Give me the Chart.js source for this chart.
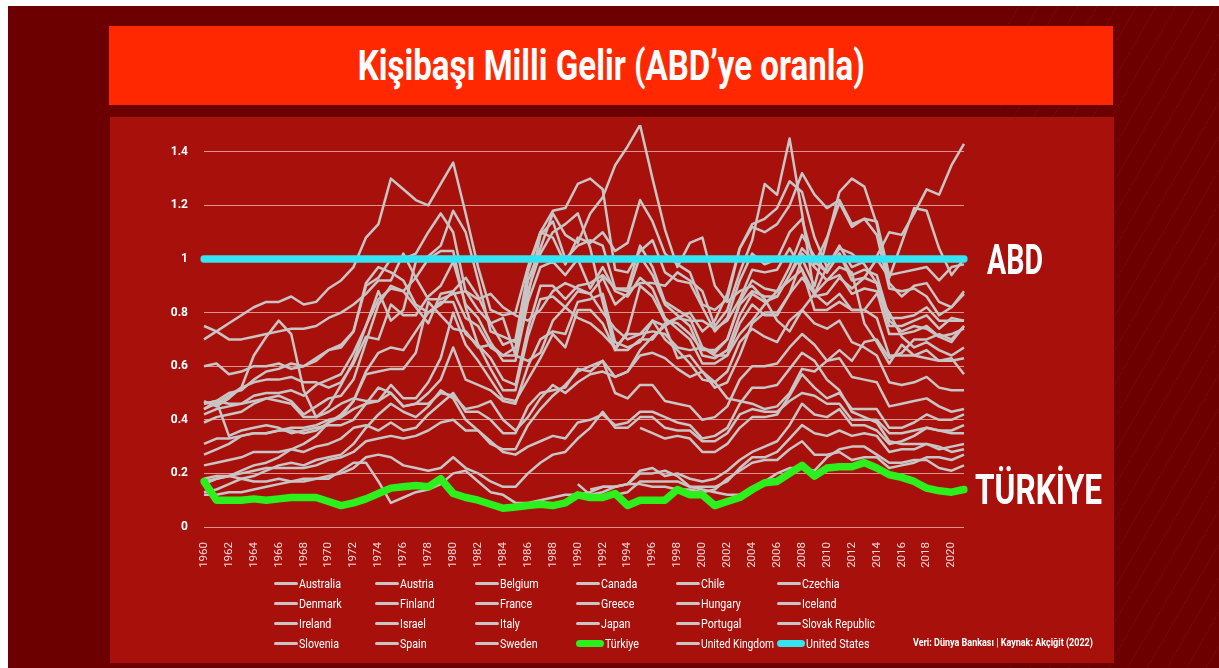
<!DOCTYPE html>
<html lang="tr">
<head>
<meta charset="utf-8">
<title>Kişibaşı Milli Gelir (ABD’ye oranla)</title>
<script src="https://cdn.jsdelivr.net/npm/chart.js@4.4.1/dist/chart.umd.min.js"></script>
<style>
    html, body { margin: 0; padding: 0; }
    body {
        width: 1219px; height: 668px; position: relative; overflow: hidden;
        background: #fff; font-family: Roboto, "Noto Sans", sans-serif;
    }
    #fondo {
        position: absolute; left: 8px; top: 6px; right: 0; bottom: 0;
        background: #6c0000;
    }
    #rayas {
        position: absolute; left: 1000px; top: 6px; right: 0; bottom: 0;
        background: repeating-linear-gradient(120deg, rgba(255,70,70,0) 0 16px, rgba(255,70,70,0.07) 16px 17px);
    }
    #titulo {
        position: absolute; left: 109px; top: 26px; width: 1004px; height: 79px;
        background: #ff2800; color: #fff; text-align: center;
    }
    #titulo span {
        display: inline-block; font-weight: 700; font-size: 42px; line-height: 79px;
        transform-origin: center center; white-space: nowrap;
    }
    #panel {
        position: absolute; left: 110px; top: 117px; width: 1004px; height: 546px;
        background: #a8110b;
    }
    #grafico { position: absolute; left: 110px; top: 117px; }
    .item {
        position: absolute; height: 16px; display: flex; align-items: center;
        color: #fff; font-size: 13px; white-space: nowrap;
    }
    .item i { display: inline-block; width: 24px; height: 3px; border-radius: 2px; margin-right: 1px; }
    .item i.grueso { width: 28px; height: 7px; border-radius: 4px; }
    .item span, #fuente span { display: inline-block; transform: scaleX(0.82); transform-origin: left center; }
    #fuente {
        position: absolute; left: 913px; top: 636px; color: #fff;
        font-size: 11px; font-weight: 700; white-space: nowrap;
    }
</style>
</head>
<body>
<div id="fondo"></div>
<div id="rayas"></div>
<div id="titulo"><span>Kişibaşı Milli Gelir (ABD’ye oranla)</span></div>
<div id="panel"></div>
<canvas id="grafico" width="1004" height="546"></canvas>
<div id="leyenda"></div>
<div id="fuente"><span>Veri: Dünya Bankası | Kaynak: Akçiğit (2022)</span></div>

<script>
// Years on the x axis
const years = [
    '1960','1961','1962','1963','1964','1965','1966','1967','1968','1969',
    '1970','1971','1972','1973','1974','1975','1976','1977','1978','1979',
    '1980','1981','1982','1983','1984','1985','1986','1987','1988','1989',
    '1990','1991','1992','1993','1994','1995','1996','1997','1998','1999',
    '2000','2001','2002','2003','2004','2005','2006','2007','2008','2009',
    '2010','2011','2012','2013','2014','2015','2016','2017','2018','2019',
    '2020','2021'
];

// Y ticks shown
const yTicks = [0, 0.2, 0.4, 0.6, 0.8, 1, 1.2, 1.4];

// Per capita income relative to the US
const australia = [
    .60,.61,.57,.58,.60,.60,.61,.59,.60,.62,
    .66,.68,.73,.91,.97,.95,.92,.83,.80,.83,
    .88,.93,.86,.76,.78,.64,.62,.65,.77,.82,
    .78,.76,.72,.67,.72,.72,.77,.75,.63,.64,
    .58,.52,.54,.64,.76,.80,.80,.87,1.00,.90,
    1.07,1.25,1.30,1.27,1.13,.91,.86,.90,.91,.84,
    .82,.87];
const austria = [
    .31,.33,.33,.34,.35,.35,.36,.36,.35,.36,
    .39,.42,.47,.58,.65,.67,.66,.73,.80,.84,
    .84,.72,.68,.63,.55,.53,.74,.90,.90,.85,
    .90,.91,.94,.89,.89,1.05,.97,.84,.81,.78,
    .67,.65,.70,.83,.88,.86,.86,.94,1.04,.99,
    .95,1.02,.94,.96,.94,.78,.78,.79,.82,.77,
    .77,.77];
const belgium = [
    .42,.44,.45,.46,.49,.50,.50,.51,.49,.53,
    .55,.57,.65,.75,.85,.89,.88,.93,1.00,1.03,
    1.03,.82,.68,.59,.51,.51,.71,.85,.86,.82,
    .88,.87,.93,.83,.87,1.01,.94,.83,.79,.75,
    .64,.63,.66,.79,.87,.84,.86,.94,1.02,.97,
    .92,.94,.87,.89,.88,.72,.72,.73,.75,.71,
    .72,.74];
const canada = [
    .75,.73,.70,.70,.71,.72,.73,.74,.74,.75,
    .78,.80,.83,.87,.92,.92,1.02,.93,.85,.85,
    .87,.88,.85,.87,.82,.79,.77,.81,.88,.91,
    .89,.87,.80,.74,.70,.72,.73,.72,.67,.66,
    .67,.64,.64,.72,.77,.83,.88,.92,.96,.87,
    .97,1.04,1.02,.98,.91,.77,.73,.75,.74,.71,
    .69,.75];
const chile = [
    .18,.19,.19,.18,.17,.17,.18,.17,.17,.18,
    .18,.21,.24,.24,.17,.09,.11,.13,.14,.16,
    .20,.21,.17,.13,.12,.09,.09,.10,.11,.12,
    .12,.13,.15,.15,.16,.20,.20,.21,.19,.15,
    .14,.13,.12,.12,.15,.17,.20,.22,.22,.21,
    .26,.29,.30,.30,.27,.24,.24,.25,.25,.22,
    .21,.23];
const czechia = [
    null,null,null,null,null,null,null,null,null,null,
    null,null,null,null,null,null,null,null,null,null,
    null,null,null,null,null,null,null,null,null,null,
    .16,.12,.13,.15,.16,.21,.22,.19,.20,.18,
    .17,.18,.21,.25,.28,.30,.32,.38,.46,.42,
    .41,.44,.38,.38,.36,.31,.32,.34,.37,.36,
    .36,.38];
const denmark = [
    .44,.47,.50,.51,.55,.58,.59,.61,.60,.63,
    .66,.67,.73,.90,.93,1.00,1.00,1.02,1.10,1.17,
    1.10,.88,.81,.76,.68,.70,.95,1.10,1.08,.98,
    1.08,1.06,1.10,1.03,1.06,1.22,1.14,1.02,.98,.95,
    .83,.81,.85,1.04,1.12,1.10,1.13,1.20,1.32,1.24,
    1.19,1.22,1.13,1.15,1.14,.94,.95,.96,.97,.92,
    .97,.98];
const finland = [
    .39,.41,.42,.43,.46,.48,.49,.47,.42,.45,
    .48,.49,.55,.69,.83,.90,.88,.82,.76,.87,
    .88,.78,.75,.67,.64,.67,.88,1.02,1.10,1.13,
    1.17,1.04,.84,.66,.73,.90,.86,.77,.76,.72,
    .66,.66,.70,.84,.92,.89,.88,.97,1.09,1.01,
    .95,1.02,.92,.93,.91,.75,.75,.77,.79,.74,
    .78,.77];
const france = [
    .44,.46,.49,.52,.54,.55,.55,.56,.54,.54,
    .52,.54,.61,.71,.70,.83,.79,.79,.86,.90,
    .99,.83,.78,.69,.62,.62,.84,.97,.99,.94,
    1.00,.89,.97,.88,.86,.93,.89,.78,.74,.70,
    .61,.61,.64,.76,.83,.79,.79,.87,.93,.87,
    .83,.87,.81,.81,.78,.64,.64,.64,.66,.62,
    .62,.63];
const greece = [
    .17,.18,.19,.20,.21,.22,.22,.22,.22,.23,
    .25,.26,.28,.32,.33,.34,.33,.34,.36,.39,
    .40,.36,.36,.32,.28,.27,.30,.32,.34,.33,
    .39,.40,.42,.38,.39,.43,.43,.41,.39,.38,
    .33,.34,.37,.46,.52,.52,.53,.59,.65,.62,
    .55,.51,.43,.41,.39,.32,.31,.31,.31,.30,
    .28,.29];
const hungary = [
    null,null,null,null,null,null,null,null,null,null,
    null,null,null,null,null,null,null,null,null,null,
    null,null,null,null,null,null,null,null,null,null,
    null,.14,.15,.15,.16,.16,.15,.15,.14,.14,
    .13,.14,.18,.21,.24,.25,.25,.29,.32,.27,
    .27,.28,.25,.26,.26,.22,.23,.24,.26,.26,
    .25,.27];
const iceland = [
    .47,.45,.48,.52,.64,.71,.77,.72,.51,.41,
    .45,.53,.62,.75,.88,.77,.81,.99,1.01,1.05,
    1.18,1.10,.92,.73,.71,.69,.86,1.09,1.14,1.00,
    1.05,1.07,1.05,.89,.88,.91,.91,.90,.95,.92,
    .88,.75,.81,.95,1.07,1.28,1.24,1.45,1.17,.86,
    .87,.93,.89,.93,1.00,.93,1.06,1.19,1.18,1.04,
    .94,1.00];
const ireland = [
    .23,.24,.25,.26,.28,.28,.28,.29,.28,.30,
    .31,.33,.37,.38,.36,.39,.36,.37,.42,.46,
    .50,.43,.43,.40,.35,.35,.45,.50,.51,.52,
    .59,.58,.62,.56,.58,.66,.71,.75,.78,.80,
    .73,.77,.87,1.04,1.13,1.15,1.19,1.29,1.25,1.08,
    .97,1.05,.97,.99,1.01,1.10,1.09,1.17,1.26,1.24,
    1.35,1.43];
const israel = [
    .46,.47,.34,.36,.37,.38,.37,.35,.36,.37,
    .38,.38,.40,.46,.52,.50,.45,.46,.46,.50,
    .49,.44,.45,.47,.40,.36,.41,.48,.53,.50,
    .54,.57,.58,.56,.58,.64,.65,.63,.59,.56,
    .58,.54,.48,.47,.46,.44,.45,.50,.59,.58,
    .62,.66,.62,.69,.70,.63,.65,.70,.70,.72,
    .70,.75];
const italy = [
    .27,.29,.31,.34,.35,.35,.36,.37,.37,.38,
    .40,.41,.44,.46,.47,.50,.45,.46,.50,.55,
    .67,.55,.53,.51,.47,.46,.60,.70,.73,.72,
    .84,.85,.87,.69,.67,.69,.77,.70,.66,.61,
    .55,.54,.58,.69,.74,.71,.69,.77,.81,.76,
    .74,.77,.69,.67,.64,.54,.53,.54,.56,.52,
    .51,.51];
const japan = [
    .16,.18,.19,.21,.23,.24,.26,.29,.31,.34,
    .39,.41,.47,.57,.58,.59,.59,.65,.84,.79,
    .74,.73,.67,.68,.64,.64,.92,1.04,1.17,1.09,
    1.06,1.17,1.23,1.35,1.42,1.50,1.30,1.11,.97,1.06,
    1.08,.90,.84,.88,.90,.85,.77,.73,.81,.87,
    .92,.97,.95,.76,.69,.61,.68,.64,.63,.62,
    .63,.57];
const portugal = [
    .12,.12,.13,.13,.14,.15,.16,.17,.18,.18,
    .19,.20,.22,.26,.27,.26,.23,.22,.21,.22,
    .26,.22,.20,.17,.15,.15,.20,.24,.27,.28,
    .33,.37,.43,.37,.37,.41,.41,.37,.36,.36,
    .32,.32,.35,.42,.44,.43,.43,.47,.50,.49,
    .46,.46,.40,.40,.40,.35,.35,.36,.37,.36,
    .35,.35];
const slovakRepublic = [
    null,null,null,null,null,null,null,null,null,null,
    null,null,null,null,null,null,null,null,null,null,
    null,null,null,null,null,null,null,null,null,null,
    null,null,null,.12,.13,.17,.17,.17,.17,.15,
    .15,.15,.17,.22,.26,.26,.28,.33,.38,.35,
    .34,.36,.34,.35,.34,.28,.29,.29,.31,.29,
    .30,.31];
const slovenia = [
    null,null,null,null,null,null,null,null,null,null,
    null,null,null,null,null,null,null,null,null,null,
    null,null,null,null,null,null,null,null,null,null,
    null,null,null,null,null,.37,.35,.33,.34,.33,
    .28,.28,.31,.37,.41,.41,.42,.49,.57,.52,
    .48,.50,.44,.44,.44,.37,.37,.39,.42,.40,
    .40,.42];
const spain = [
    .13,.14,.16,.18,.19,.21,.23,.24,.23,.25,
    .26,.27,.31,.37,.42,.46,.43,.41,.45,.51,
    .48,.40,.36,.31,.29,.29,.38,.44,.49,.53,
    .58,.60,.62,.50,.48,.53,.53,.47,.46,.45,
    .40,.41,.45,.55,.60,.60,.61,.67,.72,.68,
    .62,.63,.56,.55,.54,.45,.46,.47,.48,.45,
    .43,.44];
const sweden = [
    .70,.73,.76,.79,.82,.84,.84,.86,.83,.84,
    .89,.92,.97,1.08,1.13,1.30,1.26,1.22,1.20,1.28,
    1.36,1.17,.97,.81,.79,.80,.97,1.10,1.18,1.19,
    1.28,1.30,1.26,.96,.95,1.03,1.07,.95,.92,.91,
    .82,.73,.78,.92,1.02,.98,1.00,1.10,1.15,.98,
    1.08,1.21,1.12,1.15,1.09,.89,.88,.89,.86,.79,
    .82,.88];
const turkiye = [
    .17,.10,.10,.10,.105,.10,.105,.11,.11,.11,
    .095,.08,.09,.105,.125,.145,.15,.155,.15,.18,
    .125,.11,.10,.085,.07,.075,.08,.085,.08,.09,
    .12,.11,.11,.125,.08,.10,.10,.10,.14,.12,
    .12,.08,.095,.11,.14,.165,.17,.20,.23,.19,
    .22,.225,.225,.24,.22,.195,.185,.17,.145,.135,
    .13,.14];
const unitedKingdom = [
    .46,.47,.46,.46,.47,.48,.47,.46,.41,.41,
    .43,.46,.48,.47,.47,.53,.48,.48,.54,.63,
    .80,.68,.62,.55,.48,.47,.55,.63,.72,.67,
    .81,.81,.76,.66,.66,.70,.70,.76,.78,.77,
    .77,.74,.77,.85,.96,.95,.96,1.04,.96,.81,
    .81,.84,.81,.81,.87,.80,.71,.67,.69,.66,
    .64,.67];
const unitedStates = [
    1,1,1,1,1,1,1,1,1,1,
    1,1,1,1,1,1,1,1,1,1,
    1,1,1,1,1,1,1,1,1,1,
    1,1,1,1,1,1,1,1,1,1,
    1,1,1,1,1,1,1,1,1,1,
    1,1,1,1,1,1,1,1,1,1,
    1,1];

// Legend order (alphabetical, as in the original)
const countries = [
    'Australia', 'Austria', 'Belgium', 'Canada', 'Chile', 'Czechia',
    'Denmark', 'Finland', 'France', 'Greece', 'Hungary', 'Iceland',
    'Ireland', 'Israel', 'Italy', 'Japan', 'Portugal', 'Slovak Republic',
    'Slovenia', 'Spain', 'Sweden', 'Türkiye', 'United Kingdom', 'United States'
];
const series = [
    australia, austria, belgium, canada, chile, czechia,
    denmark, finland, france, greece, hungary, iceland,
    ireland, israel, italy, japan, portugal, slovakRepublic,
    slovenia, spain, sweden, turkiye, unitedKingdom, unitedStates
];

const GRIS = '#c9c5c5';
const VERDE = '#2cf01c';
const CIAN = '#35e4f2';

// Build datasets: grey for every country, Türkiye and ABD highlighted on top
const datasets = countries.map(function (name, i) {
    const destacado = name === 'Türkiye' || name === 'United States';
    const color = name === 'Türkiye' ? VERDE : (name === 'United States' ? CIAN : GRIS);
    return {
        label: name,
        data: series[i],
        borderColor: color,
        backgroundColor: color,
        borderWidth: destacado ? 7.5 : 2.5,
        borderCapStyle: destacado ? 'round' : 'butt',
        borderJoinStyle: 'round',
        pointRadius: 0,
        pointHoverRadius: 0,
        tension: 0,
        fill: false,
        order: destacado ? 0 : 1
    };
});

// End-of-line labels (ABD, TÜRKİYE)
const etiquetasFinales = {
    id: 'etiquetasFinales',
    afterDatasetsDraw(chart) {
        const ctx = chart.ctx;
        const y = chart.scales.y;
        const area = chart.chartArea;
        const items = [
            { text: 'ABD', value: unitedStates[unitedStates.length - 1], dx: 23, width: 56 },
            { text: 'TÜRKİYE', value: turkiye[turkiye.length - 1], dx: 11, width: 127 }
        ];
        ctx.save();
        ctx.fillStyle = '#ffffff';
        ctx.font = '700 42px Roboto, "Noto Sans", sans-serif';
        ctx.textBaseline = 'alphabetic';
        items.forEach(function (it) {
            const w = ctx.measureText(it.text).width;
            const py = y.getPixelForValue(it.value);
            ctx.save();
            ctx.translate(area.right + it.dx, py + 15);
            ctx.scale(it.width / w, 1);
            ctx.fillText(it.text, 0, 0);
            ctx.restore();
        });
        ctx.restore();
    }
};

const chart = new Chart(document.getElementById('grafico'), {
    type: 'line',
    data: { labels: years, datasets: datasets },
    options: {
        responsive: false,
        devicePixelRatio: 1,
        animation: false,
        layout: { padding: { left: 0, top: 8, right: 150, bottom: 86 } },
        plugins: {
            legend: { display: false },
            tooltip: { enabled: false },
            title: { display: false }
        },
        scales: {
            x: {
                grid: { display: false, drawTicks: false },
                border: { display: false },
                afterFit: function (scale) {
                    scale.height = 50;
                    scale.paddingLeft = 0;
                    scale.paddingRight = 0;
                },
                ticks: {
                    color: '#f2dada',
                    font: { family: 'Roboto', size: 11.5 },
                    padding: 15,
                    autoSkip: false,
                    minRotation: 90,
                    maxRotation: 90,
                    callback: function (value, index) {
                        return index % 2 === 0 ? years[index] : '';
                    }
                }
            },
            y: {
                min: 0,
                max: 1.5,
                grid: { color: 'rgba(240, 196, 190, 0.75)', lineWidth: 1, drawTicks: false },
                border: { display: false },
                afterFit: function (scale) {
                    scale.width = 94;
                    scale.paddingTop = 0;
                    scale.paddingBottom = 0;
                },
                afterBuildTicks: function (scale) {
                    scale.ticks = yTicks.map(v => ({ value: v }));
                },
                ticks: {
                    color: '#ffffff',
                    font: { family: 'Roboto', size: 12, weight: '700' },
                    padding: 16,
                    callback: value => String(Number(value.toFixed(1)))
                }
            }
        }
    },
    plugins: [etiquetasFinales]
});

// Title: fit the text to the width of the original condensed type
(function () {
    const span = document.querySelector('#titulo span');
    const w = span.getBoundingClientRect().width;
    span.style.transform = 'scaleX(' + (507 / w) + ')';
})();

// HTML legend in a 6-column grid, built from the chart datasets
(function () {
    const cont = document.getElementById('leyenda');
    chart.data.datasets.forEach(function (ds, i) {
        const col = i % 6;
        const fila = Math.floor(i / 6);
        const item = document.createElement('div');
        item.className = 'item';
        item.style.left = (274 + col * 100.6) + 'px';
        item.style.top = (575 + fila * 20) + 'px';
        const linea = document.createElement('i');
        if (ds.borderWidth > 3) linea.className = 'grueso';
        linea.style.background = ds.borderColor;
        const texto = document.createElement('span');
        texto.textContent = ds.label;
        item.appendChild(linea);
        item.appendChild(texto);
        cont.appendChild(item);
        // squeeze long names so they do not run into the next column
        const w = texto.getBoundingClientRect().width;
        if (w > 73) {
            texto.style.transform = 'scaleX(' + (0.82 * 73 / w) + ')';
        }
    });
})();
</script>
</body>
</html>
